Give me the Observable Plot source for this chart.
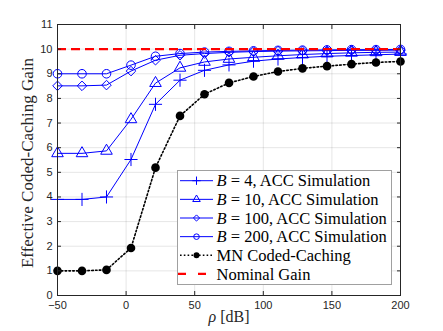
<!DOCTYPE html>
<html>
<head>
<meta charset="utf-8">
<script src="https://cdn.jsdelivr.net/npm/d3@7"></script>
<script src="https://cdn.jsdelivr.net/npm/@observablehq/plot@0.6"></script>
<style>
  html, body { margin: 0; padding: 0; background: white; }
  #chart svg { display: block; }
</style>
</head>
<body>
<div id="chart"></div>
<script>
// ---- data ----
const rho = [-50, -32.14, -14.29, 3.57, 21.43, 39.29, 57.14, 75, 92.86, 110.71, 128.57, 146.43, 164.29, 182.14, 200];
const gainB4   = [3.90, 3.90, 4.00, 5.52, 7.76, 8.74, 9.14, 9.36, 9.51, 9.60, 9.66, 9.71, 9.74, 9.77, 9.80];
const gainB10  = [5.77, 5.77, 5.87, 7.15, 8.62, 9.24, 9.48, 9.60, 9.67, 9.73, 9.78, 9.82, 9.85, 9.87, 9.88];
const gainB100 = [8.51, 8.51, 8.54, 9.11, 9.55, 9.75, 9.82, 9.87, 9.90, 9.92, 9.93, 9.94, 9.95, 9.95, 9.96];
const gainB200 = [9.00, 9.00, 9.00, 9.35, 9.71, 9.82, 9.88, 9.91, 9.93, 9.95, 9.96, 9.97, 9.98, 9.98, 9.99];
const gainMN   = [1.00, 1.00, 1.04, 1.93, 5.19, 7.29, 8.17, 8.63, 8.89, 9.09, 9.22, 9.31, 9.39, 9.46, 9.50];
const nominalGain = [10];
const xTicks = [-50, 0, 50, 100, 150, 200];
const yTicks = [0, 1, 2, 3, 4, 5, 6, 7, 8, 9, 10, 11];
const seriesNames = ["4", "10", "100", "200"];
const legendLabels = ["MN Coded-Caching", "Nominal Gain"];

const rows = (vals) => rho.map((r, i) => ({rho: r, g: vals[i]}));
const blue = "#0000ff";
const axisColor = "#262626";

const blueSeries = [
  {data: rows(gainB4),   symbol: "plus"},
  {data: rows(gainB10),  symbol: "triangle"},
  {data: rows(gainB100), symbol: "diamond2"},
  {data: rows(gainB200), symbol: "circle"}
];

const marks = [
  Plot.gridX(xTicks, {stroke: "#000", strokeOpacity: 0.1, strokeWidth: 1}),
  Plot.gridY(yTicks, {stroke: "#000", strokeOpacity: 0.1, strokeWidth: 1}),
];
for (const s of blueSeries) {
  marks.push(Plot.line(s.data, {x: "rho", y: "g", stroke: blue, strokeWidth: 1}));
  marks.push(Plot.dot(s.data, {x: "rho", y: "g", symbol: () => s.symbol, stroke: blue, fill: "none", r: 4.3, strokeWidth: 1}));
}
marks.push(Plot.line(rows(gainMN), {x: "rho", y: "g", stroke: "black", strokeWidth: 1.6, strokeDasharray: "1.6,2.2"}));
marks.push(Plot.dot(rows(gainMN), {x: "rho", y: "g", fill: "black", r: 4.3}));
marks.push(Plot.ruleY(nominalGain, {stroke: "red", strokeWidth: 2.2, strokeDasharray: "9,5"}));
marks.push(Plot.frame({stroke: axisColor, strokeWidth: 1}));
marks.push(Plot.axisX(xTicks, {anchor: "bottom", tickSize: -4, tickPadding: 10, stroke: axisColor, fill: axisColor}));
marks.push(Plot.axisX(xTicks, {anchor: "top", tickSize: -4, tickFormat: () => "", stroke: axisColor}));
marks.push(Plot.axisY(yTicks, {anchor: "left", tickSize: -4, tickPadding: 9, stroke: axisColor, fill: axisColor}));
marks.push(Plot.axisY(yTicks, {anchor: "right", tickSize: -4, tickFormat: () => "", stroke: axisColor}));

const chart = Plot.plot({
  width: 443,
  height: 331,
  marginLeft: 57,
  marginRight: 43,
  marginTop: 24,
  marginBottom: 36,
  style: {fontFamily: "'Liberation Sans', Arial, sans-serif", fontSize: "11px", color: axisColor, background: "white"},
  x: {domain: [-50, 200], label: null},
  y: {domain: [0, 11], label: null},
  marks
});
document.getElementById("chart").appendChild(chart);

// ---- axis labels & legend overlay ----
const svg = d3.select(chart);
const serif = "'Liberation Serif', 'DejaVu Serif', serif";

svg.append("text")
  .attr("transform", "translate(33,163) rotate(-90)")
  .attr("text-anchor", "middle")
  .attr("font-family", serif).attr("font-size", "17px").attr("fill", axisColor)
  .text("Effective Coded-Caching Gain");

const xl = svg.append("text")
  .attr("x", 229).attr("y", 322)
  .attr("text-anchor", "middle")
  .attr("font-family", serif).attr("font-size", "16px").attr("fill", axisColor);
xl.append("tspan").attr("font-style", "italic").text("ρ");
xl.append("tspan").text(" [dB]");

const fs = "16.5px";
const lg = svg.append("g").attr("text-anchor", "start");
lg.append("rect").attr("x", 177.5).attr("y", 170.5).attr("width", 214).attr("height", 114)
  .attr("fill", "white").attr("stroke", "#a0a0a0").attr("stroke-width", 1);
const rowY = (i) => 180.7 + i * 18.65;
const lx0 = 180, lx1 = 213, mx = 196.5, tx = 216.5;
const symMap = {plus: d3.symbolPlus, triangle: d3.symbolTriangle, diamond2: d3.symbolDiamond2};
blueSeries.forEach((s, i) => {
  const y = rowY(i);
  lg.append("line").attr("x1", lx0).attr("x2", lx1).attr("y1", y).attr("y2", y).attr("stroke", blue).attr("stroke-width", 1);
  if (s.symbol === "circle") {
    lg.append("circle").attr("cx", mx).attr("cy", y).attr("r", 2.8).attr("fill", "none").attr("stroke", blue);
  } else {
    lg.append("path").attr("transform", `translate(${mx},${y})`)
      .attr("d", d3.symbol(symMap[s.symbol], Math.PI * 2.8 * 2.8)())
      .attr("fill", "none").attr("stroke", blue);
  }
  const t = lg.append("text").attr("x", tx).attr("y", y).attr("dy", "0.35em").attr("text-anchor", "start")
    .attr("font-family", serif).attr("font-size", fs).attr("fill", "#000");
  t.append("tspan").attr("font-style", "italic").text("B");
  t.append("tspan").text(` = ${seriesNames[i]}, ACC Simulation`);
});
{
  const y = rowY(4);
  lg.append("line").attr("x1", lx0).attr("x2", lx1).attr("y1", y).attr("y2", y)
    .attr("stroke", "black").attr("stroke-width", 1.6).attr("stroke-dasharray", "1.6,2.2");
  lg.append("circle").attr("cx", mx).attr("cy", y).attr("r", 3).attr("fill", "black");
  lg.append("text").attr("x", tx).attr("y", y).attr("dy", "0.35em").attr("text-anchor", "start")
    .attr("font-family", serif).attr("font-size", fs).attr("fill", "#000").text(legendLabels[0]);
}
{
  const y = rowY(5);
  lg.append("line").attr("x1", lx0 - 2).attr("x2", lx1).attr("y1", y).attr("y2", y)
    .attr("stroke", "red").attr("stroke-width", 2.2).attr("stroke-dasharray", "8,12");
  lg.append("text").attr("x", tx).attr("y", y).attr("dy", "0.35em").attr("text-anchor", "start")
    .attr("font-family", serif).attr("font-size", fs).attr("fill", "#000").text(legendLabels[1]);
}
</script>
</body>
</html>
